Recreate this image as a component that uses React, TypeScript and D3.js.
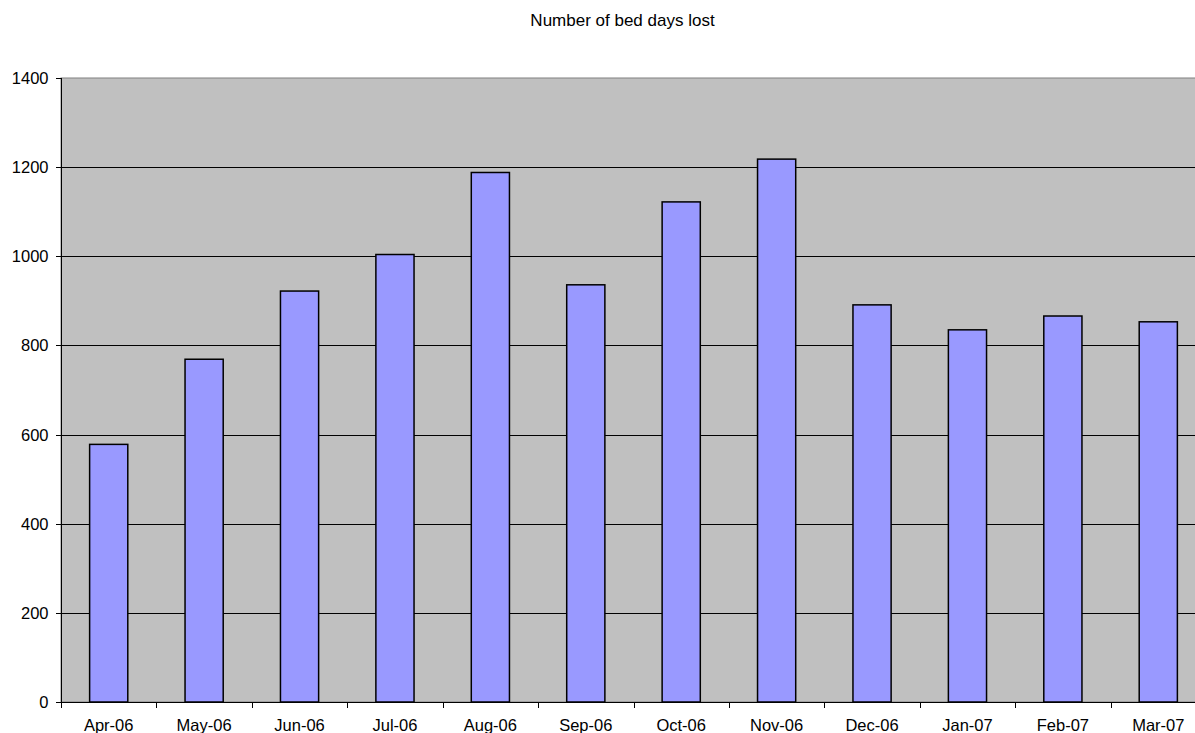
import * as d3 from 'd3';

const months = ['Apr-06', 'May-06', 'Jun-06', 'Jul-06', 'Aug-06', 'Sep-06', 'Oct-06', 'Nov-06', 'Dec-06', 'Jan-07', 'Feb-07', 'Mar-07'];
const bedDaysLost = [578, 769, 922, 1004, 1188, 936, 1122, 1218, 891, 835, 866, 853];
const yTickValues = [0, 200, 400, 600, 800, 1000, 1200, 1400];

const WIDTH = 1195;
const HEIGHT = 733;
// the plot area runs a little past the right edge of the window, as in the original
const margin = { top: 78, left: 61, bottom: 31 };
const plotRight = 1206;

export default function App() {
  const plotBottom = HEIGHT - margin.bottom;
  const x = d3.scaleBand<string>()
    .domain(months)
    .range([margin.left, plotRight])
    .paddingInner(0.6)
    .paddingOuter(0.3);
  const y = d3.scaleLinear().domain([0, 1400]).range([plotBottom, margin.top]);
  const step = x.step();
  const bandStart = (m: string) => x(m)! - step * 0.3;

  return (
    <div style={{ position: 'absolute', left: 0, top: 0 }}>
      <svg width={WIDTH} height={HEIGHT} style={{ display: 'block', fontFamily: '"Liberation Sans", Arial, sans-serif' }}>
        <rect x={0} y={0} width={WIDTH} height={HEIGHT} fill="#ffffff" />
        <text x={622.5} y={26} textAnchor="middle" fontSize={17} fill="#000">Number of bed days lost</text>
        <rect x={margin.left} y={margin.top} width={plotRight - margin.left} height={plotBottom - margin.top} fill="#c0c0c0" stroke="#808080" strokeWidth={1} />
        {yTickValues.filter((t) => t > 0 && t < 1400).map((t) => (
          <line key={`g-${t}`} x1={margin.left} x2={plotRight} y1={Math.round(y(t)) + 0.5} y2={Math.round(y(t)) + 0.5} stroke="#000" strokeWidth={1} />
        ))}
        {months.map((m, i) => (
          <rect
            key={m}
            x={x(m)}
            y={y(bedDaysLost[i])}
            width={x.bandwidth()}
            height={plotBottom - y(bedDaysLost[i])}
            fill="#9999ff"
            stroke="#000"
            strokeWidth={1.5}
          />
        ))}
        <line x1={margin.left + 0.5} x2={margin.left + 0.5} y1={margin.top} y2={plotBottom} stroke="#000" />
        <line x1={margin.left} x2={plotRight} y1={plotBottom + 0.5} y2={plotBottom + 0.5} stroke="#000" />
        {yTickValues.map((t) => (
          <g key={`y-${t}`}>
            <line x1={margin.left - 5} x2={margin.left} y1={Math.round(y(t)) + 0.5} y2={Math.round(y(t)) + 0.5} stroke="#000" />
            <text x={48.5} y={y(t) + 6} textAnchor="end" fontSize={16.5} fill="#000">{t}</text>
          </g>
        ))}
        {months.map((m) => (
          <g key={`x-${m}`}>
            <line x1={Math.round(bandStart(m)) + 0.5} x2={Math.round(bandStart(m)) + 0.5} y1={plotBottom} y2={plotBottom + 6} stroke="#000" />
            <text x={x(m)! + x.bandwidth() / 2} y={731} textAnchor="middle" fontSize={16.5} fill="#000">{m}</text>
          </g>
        ))}
      </svg>
    </div>
  );
}
